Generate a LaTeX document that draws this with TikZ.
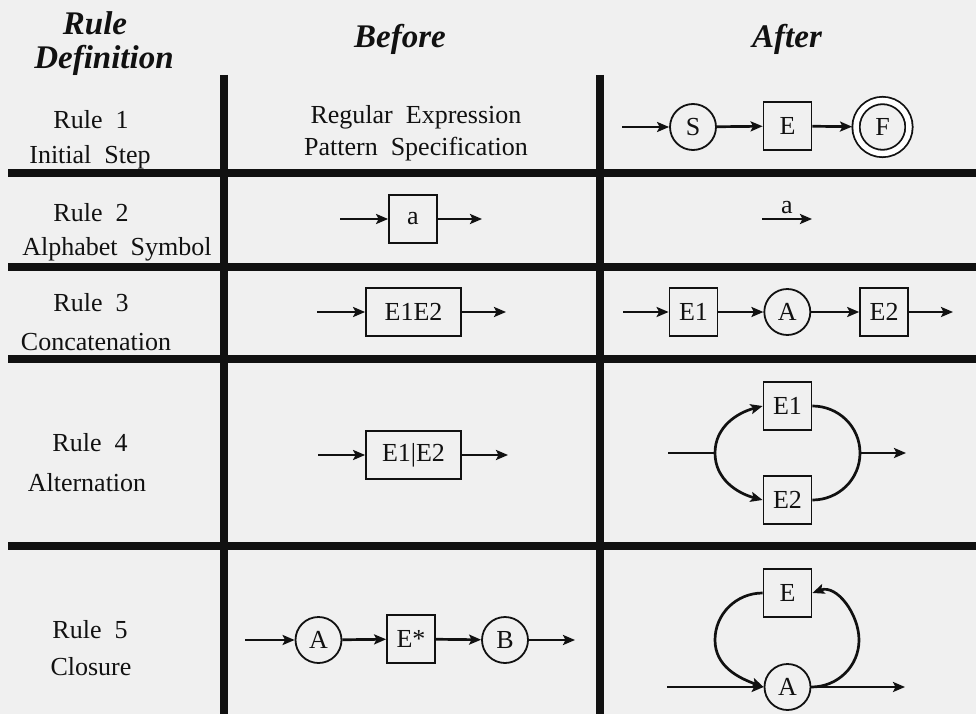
\documentclass[tikz,border=0pt]{standalone}
\usepackage{fontspec}
\setmainfont{Liberation Serif}
\usepackage{xcolor}
\usetikzlibrary{arrows.meta,positioning}
\definecolor{paper}{RGB}{240,240,240}
\definecolor{ink}{RGB}{17,17,17}

\begin{document}
\begin{tikzpicture}[
  x=1pt, y=1pt,
  font=\fontsize{26}{30}\selectfont, color=ink,
  head/.style={font=\fontsize{33}{36}\selectfont\bfseries\itshape, inner sep=0pt, anchor=base},
  lbl/.style={inner sep=0pt, anchor=base},
  box/.style={draw, line width=1.8pt, minimum width=48pt, minimum height=48pt, inner sep=2pt},
  state/.style={draw, circle, line width=1.8pt, minimum size=46pt, inner sep=0pt},
  arr/.style={-{Stealth[length=12pt,width=10pt,inset=2.5pt]}, line width=2.7pt},
  wire/.style={line width=2.7pt},
  gridline/.style={line width=8pt}
]
\useasboundingbox (0,0) rectangle (976,-714);
\fill[paper] (0,0) rectangle (976,-714);

% table
\foreach \yy in {173,267,359,546}
  \draw[gridline] (8,-\yy) -- (976,-\yy);
\foreach \xx in {224,600}
  \draw[gridline, line width=7.5pt] (\xx,-75) -- (\xx,-714);

% headings
\node[head] (hdrule) at (95,-35) {Rule};
\node[head] (hddef) at (104,-69) {Definition};
\node[head] (hdbefore) at (400,-48) {Before};
\node[head] (hdafter) at (787,-48) {After};

% rule names
\node[lbl] (rule1) at (91,-128.5) {Rule\ \ 1};
\node[lbl] (rule1d) at (90,-163.5) {Initial\ \ Step};
\node[lbl] (rule2) at (91,-221.5) {Rule\ \ 2};
\node[lbl] (rule2d) at (117,-255.5) {Alphabet\ \ Symbol};
\node[lbl] (rule3) at (91,-311.5) {Rule\ \ 3};
\node[lbl] (rule3d) at (96,-350.5) {Concatenation};
\node[lbl] (rule4) at (90,-451.5) {Rule\ \ 4};
\node[lbl] (rule4d) at (87,-491.5) {Alternation};
\node[lbl] (rule5) at (90,-638.5) {Rule\ \ 5};
\node[lbl] (rule5d) at (91,-675.5) {Closure};

% rule 1
\node[lbl] (regex) at (416,-124) {Regular\ \ Expression};
\node[lbl] (pattern) at (416,-156) {Pattern\ \ Specification};
\coordinate (in1) at (622,-127);
\node[state] (s1) at (693,-127) {S};
\node[box] (e1) at (787.5,-126) {E};
\node[state, minimum size=53pt, double, double distance=5.5pt, outer sep=4pt] (f1) at (882.5,-127) {F};
\draw[arr] (in1) -- (s1);
\draw[arr] (s1) -- (e1);
\draw[arr] (e1) -- (f1);

% rule 2
\coordinate (b2s) at (340,-219);
\node[box] (a2) at (413,-219) {a};
\coordinate (b2e) at (482,-219);
\draw[arr] (b2s) -- (a2);
\draw[arr] (a2) -- (b2e);
\coordinate (c2s) at (762,-219);
\coordinate (c2e) at (812,-219);
\draw[arr] (c2s) -- node[above=4pt, inner sep=0pt] (alab) {a} (c2e);

% rule 3
\coordinate (b3s) at (317,-312);
\node[box, minimum width=95pt] (e1e2) at (413.5,-312) {E1E2};
\coordinate (b3e) at (506,-312);
\draw[arr] (b3s) -- (e1e2);
\draw[arr] (e1e2) -- (b3e);
\coordinate (c3s) at (623,-312);
\node[box] (e13) at (693.5,-312) {E1};
\node[state, right=45pt of e13] (a3) {A};
\node[box, right=48pt of a3] (e23) {E2};
\coordinate (c3e) at (953,-312);
\draw[arr] (c3s) -- (e13);
\draw[arr] (e13) -- (a3);
\draw[arr] (a3) -- (e23);
\draw[arr] (e23) -- (c3e);

% rule 4
\coordinate (b4s) at (318,-455);
\node[box, minimum width=95pt] (e1ore2) at (413.5,-455) {E1|E2};
\coordinate (b4e) at (508,-455);
\draw[arr] (b4s) -- (e1ore2);
\draw[arr] (e1ore2) -- (b4e);
\coordinate (c4s) at (668,-453);
\coordinate (j4) at (715,-453);
\node[box] (e14) at (787.5,-406) {E1};
\node[box] (e24) at (787.5,-500) {E2};
\coordinate (k4) at (860,-453);
\coordinate (c4e) at (906,-453);
\draw[wire] (c4s) -- (j4);
\draw[arr] (j4) to[out=90,in=195] (e14.west);
\draw[arr] (j4) to[out=-90,in=165] (e24.west);
\draw[wire] (e14.east) to[out=0,in=90] (k4);
\draw[wire] (e24.east) to[out=0,in=-90] (k4);
\draw[arr] (k4) -- (c4e);

% rule 5
\coordinate (b5s) at (245,-640);
\node[state] (a5) at (318.5,-640) {A};
\node[box] (es5) at (411,-639) {E*};
\node[state] (b5) at (505,-640) {B};
\coordinate (b5e) at (575,-640);
\draw[arr] (b5s) -- (a5);
\draw[arr] (a5) -- (es5);
\draw[arr] (es5) -- (b5);
\draw[arr] (b5) -- (b5e);
\node[box] (e5) at (787.5,-593) {E};
\node[state] (a5b) at (787.5,-687) {A};
\coordinate (c5s) at (667,-687);
\coordinate (c5e) at (905,-687);
\coordinate (l5) at (715,-640);
\coordinate (r5) at (859,-640);
\draw[arr] (c5s) -- (a5b);
\draw[arr] (e5.west) to[out=180,in=90] (l5) to[out=-90,in=160] (a5b.west);
\draw[wire] (a5b.east) to[out=0,in=-90] (r5);
\draw[arr] (r5) to[out=90,in=20] (e5.east);
\draw[arr] (a5b) -- (c5e);
\end{tikzpicture}
\end{document}
